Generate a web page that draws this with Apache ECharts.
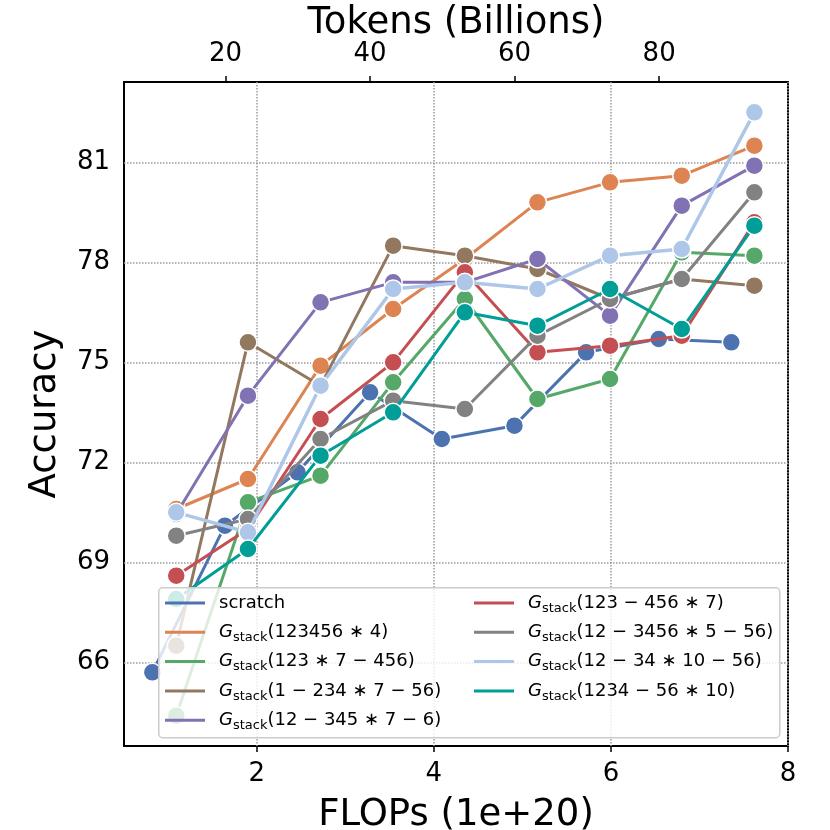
<!DOCTYPE html>
<html>
<head>
<meta charset="utf-8">
<script src="https://cdn.jsdelivr.net/npm/echarts@6.0.0/dist/echarts.min.js"></script>
<style>
  html, body { margin: 0; padding: 0; background: #fff; }
  #chart { width: 830px; height: 830px; }
</style>
</head>
<body>
<div id="chart"></div>
<script>
// x positions, FLOPs (1e+20)
var flopsScratch = [0.82, 1.64, 2.46, 3.28, 4.09, 4.91, 5.72, 6.54, 7.36];
var flopsStack = [1.09, 1.90, 2.72, 3.54, 4.35, 5.17, 5.99, 6.80, 7.62];

// accuracy per run
var accScratch = [65.7, 70.1, 71.7, 74.1, 72.7, 73.1, 75.3, 75.7, 75.6];
var acc123456x4 = [70.6, 71.5, 74.9, 76.6, 78.1, 79.8, 80.4, 80.6, 81.5];
var acc123x7_456 = [64.4, 70.8, 71.6, 74.4, 76.9, 73.9, 74.5, 78.3, 78.2];
var acc1_234x7_56 = [66.5, 75.6, 74.3, 78.5, 78.2, 77.8, 76.9, 77.5, 77.3];
var acc12_345x7_6 = [70.45, 74.0, 76.8, 77.4, 77.4, 78.1, 76.4, 79.7, 80.9];
var acc123_456x7 = [68.6, 70.0, 73.3, 75.0, 77.7, 75.3, 75.5, 75.8, 79.2];
var acc12_3456x5_56 = [69.8, 70.3, 72.7, 73.85, 73.6, 75.8, 76.9, 77.5, 80.1];
var acc12_34x10_56 = [70.5, 69.9, 74.3, 77.2, 77.4, 77.2, 78.2, 78.4, 82.5];
var acc1234_56x10 = [67.9, 69.4, 72.2, 73.5, 76.5, 76.1, 77.2, 76.0, 79.1];

var names = ['scratch', '123456*4', '123*7-456', '1-234*7-56', '12-345*7-6',
             '123-456*7', '12-3456*5-56', '12-34*10-56', '1234-56*10'];
var colors = ['#4C72B0', '#DD8452', '#55A868', '#937860', '#8172B3',
              '#C44E52', '#828282', '#AEC7E8', '#009E96'];

// tick labels
var accTicks = [66, 69, 72, 75, 78, 81];
var flopsTicks = [2, 4, 6, 8];
var tokenTicks = [20, 40, 60, 80];

var font = 'DejaVu Sans';
var xMin = 0.5, xMax = 8;
// tokens (billions) = 12.25 * flops - 0.17
var tokMin = 12.25 * xMin - 0.17, tokMax = 12.25 * xMax - 0.17;

var chart = echarts.init(document.getElementById('chart'));

var accs = [accScratch, acc123456x4, acc123x7_456, acc1_234x7_56, acc12_345x7_6,
            acc123_456x7, acc12_3456x5_56, acc12_34x10_56, acc1234_56x10];

var series = accs.map(function (acc, i) {
    var xs = i === 0 ? flopsScratch : flopsStack;
    return {
        name: names[i],
        type: 'line',
        z: 2 + i,
        data: acc.map(function (v, j) { return [xs[j], v]; }),
        symbol: 'circle',
        symbolSize: 18,
        showSymbol: true,
        lineStyle: { width: i === 7 ? 3.5 : 3, color: colors[i] },
        itemStyle: { color: colors[i], borderColor: '#fff', borderWidth: 1.5 },
        emphasis: { disabled: true }
    };
});

function legendText(name) {
    if (name === 'scratch') return '{t|scratch}';
    var s = name.replace(/\*/g, ' \u2217 ').replace(/-/g, ' \u2212 ');
    return '{g|G}{s|stack}{t|(' + s + ')}';
}

var legendStyle = {
    fontSize: 18,
    fontFamily: font,
    color: '#000',
    lineHeight: 24,
    padding: [0, 0, 0, 9],
    rich: {
        g: { fontSize: 18, fontFamily: font, fontStyle: 'italic', color: '#000', lineHeight: 24 },
        s: { fontSize: 13, fontFamily: font, color: '#000', lineHeight: 24, verticalAlign: 'bottom' },
        t: { fontSize: 18, fontFamily: font, color: '#000', lineHeight: 24 }
    }
};

function makeLegend(list, left) {
    return {
        data: list,
        orient: 'vertical',
        left: left,
        top: 591,
        icon: 'rect',
        itemWidth: 40,
        itemHeight: 3,
        itemGap: 5.3,
        padding: 0,
        selectedMode: false,
        formatter: legendText,
        itemStyle: { borderWidth: 0 },
        textStyle: legendStyle,
        z: 20
    };
}

var axisFont = { fontSize: 26, fontFamily: font, color: '#000' };
var nameFont = { fontSize: 37, fontFamily: font, color: '#000' };
var gridLine = { show: true, lineStyle: { type: 'dotted', color: '#9a9a9a', width: 1.5 } };

var option = {
    animation: false,
    backgroundColor: '#fff',
    grid: {
        left: 124, right: 42, top: 82, bottom: 84,
        outerBoundsMode: 'none', containLabel: false,
        show: true, borderColor: '#000', borderWidth: 2
    },
    xAxis: [
        {
            type: 'value', position: 'bottom', min: xMin, max: xMax,
            name: 'FLOPs (1e+20)', nameLocation: 'middle', nameGap: 51, nameMoveOverlap: false,
            nameTextStyle: nameFont,
            axisLine: { show: false },
            axisTick: { show: true, length: 6, customValues: flopsTicks, lineStyle: { color: '#000', width: 1.5 } },
            axisLabel: Object.assign({ customValues: flopsTicks, margin: 15 }, axisFont),
            splitLine: gridLine
        },
        {
            type: 'value', position: 'top', min: tokMin, max: tokMax,
            name: 'Tokens (Billions)', nameLocation: 'middle', nameGap: 40, nameMoveOverlap: false,
            nameTextStyle: nameFont,
            axisLine: { show: false },
            axisTick: { show: true, length: 6, customValues: tokenTicks, lineStyle: { color: '#000', width: 1.5 } },
            axisLabel: Object.assign({ customValues: tokenTicks, margin: 15 }, axisFont),
            splitLine: { show: false }
        }
    ],
    yAxis: {
        type: 'value', min: 63.49, max: 83.41,
        name: 'Accuracy', nameLocation: 'middle', nameGap: 60, nameMoveOverlap: false,
        nameTextStyle: nameFont,
        axisLine: { show: false },
        axisTick: { show: false, customValues: accTicks },
        axisLabel: Object.assign({ customValues: accTicks, margin: 14 }, axisFont),
        splitLine: gridLine
    },
    legend: [makeLegend(names.slice(0, 5), 165), makeLegend(names.slice(5), 474)],
    graphic: [{
        type: 'rect', left: 158, top: 587, z: 15,
        shape: { width: 621, height: 150, r: 4 },
        style: { fill: 'rgba(255,255,255,0.8)', stroke: '#cccccc', lineWidth: 1.5 }
    }],
    series: series
};

chart.setOption(option);
</script>
</body>
</html>
